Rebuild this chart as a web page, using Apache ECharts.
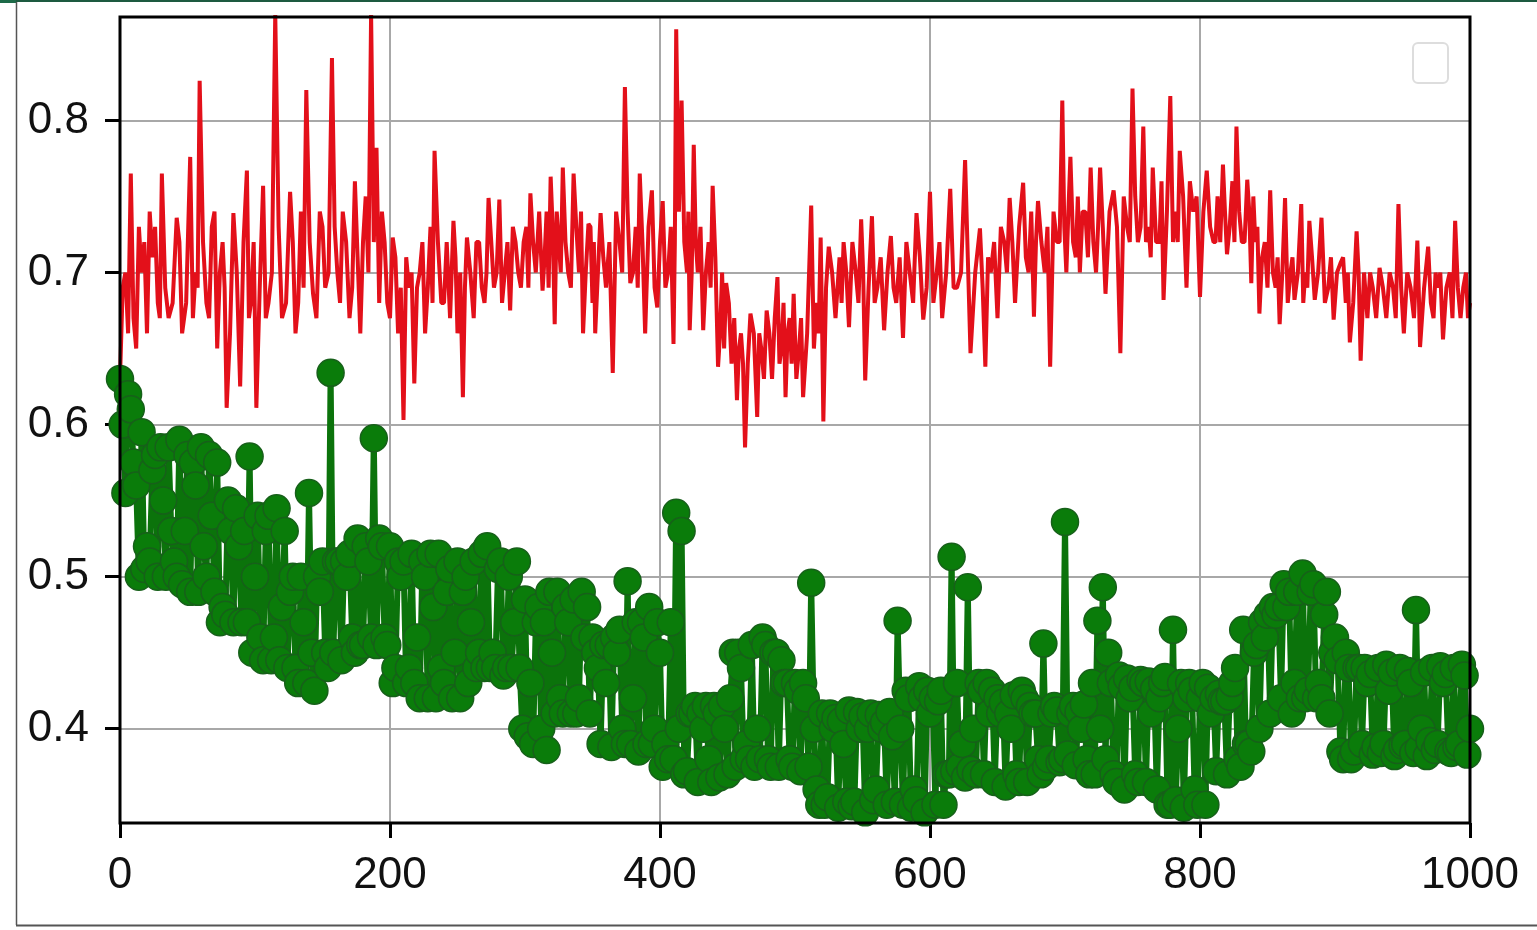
<!DOCTYPE html>
<html>
<head>
<meta charset="utf-8">
<style>
  html, body { margin: 0; padding: 0; background: #ffffff; }
  #view { width: 1537px; height: 930px; }
</style>
<script src="https://cdn.jsdelivr.net/npm/echarts@6/dist/echarts.min.js"></script>
</head>
<body>
<div id="view"></div>
<script>
  // axis ticks
  var xTicks = [0, 200, 400, 600, 800, 1000];
  var yTicks = [0.4, 0.5, 0.6, 0.7, 0.8];

  // red line: x positions and values
  var redX = [
    0, 4, 8, 12, 16, 20, 24, 28, 31, 36, 42, 46, 52, 56, 59, 64, 68, 72, 76, 79,
    84, 89, 94, 97, 101, 106, 110, 115, 120, 126, 130, 134, 138, 143, 148, 152, 157, 161, 165, 170,
    174, 178, 182, 186, 190, 194, 198, 202, 206, 210, 214, 218, 222, 226, 230, 233, 238, 242, 247, 250,
    254, 257, 262, 266, 270, 273, 277, 281, 285, 289, 293, 297, 301, 304, 308, 313, 316, 319, 322, 325,
    328, 332, 336, 340, 343, 347, 350, 352, 356, 360, 365, 370, 374, 378, 382, 385, 389, 394, 398, 402,
    406, 410, 412, 416, 420, 422, 425, 428, 432, 436, 439, 443, 446, 449, 453, 457, 460, 463, 467, 472,
    475, 479, 483, 487, 490, 493, 496, 499, 503, 506, 512, 516, 519, 521, 525, 530, 533, 536, 540, 545,
    549, 552, 557, 561, 566, 571, 575, 580, 585, 590, 595, 600, 605, 609, 615, 620, 626, 630, 637, 641,
    645, 650, 655, 659, 663, 669, 673, 677, 680, 685, 689, 694, 698, 701, 704, 708, 711, 715, 719, 723,
    726, 730, 736, 741, 746, 750, 754, 758, 762, 765, 770, 773, 778, 782, 785, 790, 795, 800, 805, 810,
    813, 817, 820, 824, 827, 831, 835, 838, 841, 844, 848, 852, 856, 859, 863, 867, 870, 875, 878, 881,
    885, 890, 895, 899, 904, 908, 911, 916, 919, 924, 928, 933, 938, 943, 947, 951, 956, 961, 963, 969,
    973, 976, 980, 985, 989, 993, 997, 1000
  ];
  var redY = [
    0.630, 0.700, 0.765, 0.650, 0.700, 0.660, 0.710, 0.680, 0.765, 0.670, 0.736, 0.660, 0.776, 0.700, 0.826, 0.680, 0.730, 0.650, 0.720, 0.611,
    0.739, 0.625, 0.767, 0.680, 0.611, 0.757, 0.680, 0.870, 0.670, 0.753, 0.660, 0.740, 0.820, 0.686, 0.740, 0.690, 0.841, 0.700, 0.740, 0.670,
    0.760, 0.660, 0.750, 0.870, 0.782, 0.740, 0.680, 0.723, 0.660, 0.603, 0.690, 0.627, 0.700, 0.660, 0.730, 0.780, 0.680, 0.720, 0.734, 0.660,
    0.618, 0.723, 0.670, 0.720, 0.680, 0.749, 0.690, 0.748, 0.700, 0.675, 0.720, 0.690, 0.730, 0.752, 0.700, 0.688, 0.740, 0.763, 0.666, 0.720,
    0.769, 0.700, 0.765, 0.700, 0.660, 0.732, 0.680, 0.660, 0.739, 0.690, 0.634, 0.720, 0.822, 0.693, 0.730, 0.765, 0.660, 0.754, 0.677, 0.747,
    0.700, 0.653, 0.860, 0.813, 0.700, 0.662, 0.784, 0.700, 0.662, 0.720, 0.757, 0.638, 0.700, 0.693, 0.640, 0.616, 0.660, 0.585, 0.673, 0.605,
    0.650, 0.675, 0.630, 0.697, 0.650, 0.618, 0.670, 0.686, 0.650, 0.618, 0.744, 0.680, 0.723, 0.602, 0.717, 0.670, 0.710, 0.720, 0.664, 0.700,
    0.735, 0.629, 0.737, 0.690, 0.662, 0.724, 0.680, 0.657, 0.700, 0.739, 0.669, 0.753, 0.700, 0.670, 0.755, 0.690, 0.774, 0.647, 0.729, 0.638,
    0.700, 0.670, 0.720, 0.749, 0.680, 0.759, 0.700, 0.671, 0.747, 0.700, 0.638, 0.720, 0.813, 0.700, 0.776, 0.710, 0.700, 0.740, 0.769, 0.700,
    0.769, 0.686, 0.754, 0.647, 0.730, 0.821, 0.720, 0.796, 0.730, 0.769, 0.720, 0.682, 0.816, 0.740, 0.780, 0.690, 0.740, 0.684, 0.767, 0.720,
    0.750, 0.771, 0.712, 0.760, 0.796, 0.720, 0.761, 0.693, 0.720, 0.673, 0.720, 0.754, 0.690, 0.666, 0.749, 0.700, 0.682, 0.745, 0.700, 0.734,
    0.682, 0.736, 0.690, 0.669, 0.706, 0.680, 0.654, 0.727, 0.642, 0.670, 0.690, 0.703, 0.670, 0.690, 0.745, 0.660, 0.690, 0.721, 0.651, 0.717,
    0.670, 0.690, 0.656, 0.700, 0.734, 0.670, 0.700, 0.680
  ];
  // red values in the dense core, halfway between the points above
  var redYMid = [
    0.690, 0.660, 0.670, 0.730, 0.720, 0.740, 0.730, 0.670, 0.690, 0.680, 0.720, 0.680, 0.670, 0.690, 0.720, 0.670, 0.740, 0.700, 0.690, 0.660,
    0.700, 0.720, 0.670, 0.720, 0.690, 0.670, 0.700, 0.730, 0.680, 0.720, 0.680, 0.690, 0.720, 0.670, 0.730, 0.700, 0.730, 0.680, 0.720, 0.690,
    0.710, 0.720, 0.700, 0.720, 0.680, 0.720, 0.670, 0.710, 0.690, 0.710, 0.700, 0.690, 0.720, 0.690, 0.680, 0.720, 0.680, 0.670, 0.710, 0.700,
    0.690, 0.700, 0.720, 0.690, 0.700, 0.720, 0.700, 0.680, 0.720, 0.730, 0.700, 0.720, 0.690, 0.720, 0.740, 0.710, 0.690, 0.730, 0.740, 0.700,
    0.720, 0.690, 0.730, 0.740, 0.700, 0.730, 0.720, 0.700, 0.710, 0.720, 0.740, 0.700, 0.740, 0.700, 0.690, 0.720, 0.730, 0.690, 0.720, 0.690,
    0.730, 0.720, 0.740, 0.720, 0.740, 0.700, 0.720, 0.730, 0.700, 0.690, 0.710, 0.660, 0.650, 0.680, 0.670, 0.650, 0.640, 0.640, 0.660, 0.660,
    0.630, 0.660, 0.670, 0.640, 0.680, 0.660, 0.640, 0.630, 0.670, 0.660, 0.650, 0.660, 0.670, 0.690, 0.700, 0.690, 0.680, 0.700, 0.720, 0.680,
    0.700, 0.690, 0.680, 0.710, 0.700, 0.690, 0.710, 0.720, 0.680, 0.710, 0.690, 0.680, 0.720, 0.700, 0.690, 0.700, 0.710, 0.700, 0.690, 0.710,
    0.720, 0.730, 0.700, 0.720, 0.730, 0.710, 0.740, 0.720, 0.720, 0.730, 0.740, 0.720, 0.730, 0.740, 0.720, 0.750, 0.740, 0.710, 0.720, 0.730,
    0.730, 0.740, 0.730, 0.750, 0.720, 0.750, 0.730, 0.720, 0.710, 0.720, 0.760, 0.740, 0.720, 0.720, 0.750, 0.760, 0.750, 0.740, 0.730, 0.720,
    0.720, 0.740, 0.730, 0.720, 0.740, 0.720, 0.740, 0.750, 0.730, 0.710, 0.690, 0.700, 0.710, 0.700, 0.680, 0.710, 0.700, 0.680, 0.690, 0.710,
    0.700, 0.680, 0.710, 0.700, 0.710, 0.700, 0.680, 0.700, 0.700, 0.700, 0.670, 0.690, 0.700, 0.670, 0.690, 0.700, 0.670, 0.690, 0.690, 0.680,
    0.700, 0.700, 0.690, 0.670, 0.690, 0.690, 0.670
  ];

  // green markers at x = 0, 4, 8 ... 1000
  var greenY = [
    0.630, 0.555, 0.610, 0.560, 0.595, 0.520, 0.570, 0.500, 0.550, 0.585,  // 0-36
    0.510, 0.590, 0.530, 0.490, 0.560, 0.585, 0.500, 0.540, 0.575, 0.480,  // 40-76
    0.550, 0.470, 0.520, 0.530, 0.579, 0.500, 0.460, 0.530, 0.445, 0.545,  // 80-116
    0.480, 0.440, 0.500, 0.430, 0.470, 0.555, 0.425, 0.490, 0.450, 0.634,  // 120-156
    0.510, 0.445, 0.500, 0.460, 0.525, 0.455, 0.510, 0.591, 0.525, 0.460,  // 160-196
    0.520, 0.440, 0.500, 0.430, 0.515, 0.460, 0.510, 0.420, 0.480, 0.515,  // 200-236
    0.430, 0.505, 0.450, 0.420, 0.500, 0.470, 0.440, 0.515, 0.520, 0.450,  // 240-276
    0.505, 0.435, 0.500, 0.470, 0.440, 0.485, 0.430, 0.470, 0.400, 0.386,  // 280-316
    0.450, 0.490, 0.410, 0.470, 0.485, 0.420, 0.460, 0.410, 0.450, 0.390,  // 320-356
    0.430, 0.388, 0.450, 0.400, 0.497, 0.420, 0.385, 0.460, 0.480, 0.400,  // 360-396
    0.450, 0.390, 0.470, 0.542, 0.530, 0.372, 0.410, 0.365, 0.400, 0.380,  // 400-436
    0.415, 0.368, 0.400, 0.420, 0.375, 0.440, 0.390, 0.455, 0.400, 0.460,  // 440-476
    0.380, 0.450, 0.375, 0.430, 0.380, 0.430, 0.372, 0.420, 0.496, 0.360,  // 480-516
    0.410, 0.355, 0.400, 0.348, 0.390, 0.412, 0.352, 0.400, 0.345, 0.410,  // 520-556
    0.360, 0.400, 0.350, 0.395, 0.471, 0.350, 0.420, 0.360, 0.428, 0.345,  // 560-596
    0.410, 0.350, 0.425, 0.370, 0.513, 0.430, 0.390, 0.493, 0.400, 0.430,  // 600-636
    0.370, 0.410, 0.365, 0.410, 0.362, 0.400, 0.370, 0.425, 0.365, 0.410,  // 640-676
    0.380, 0.456, 0.380, 0.415, 0.378, 0.536, 0.410, 0.376, 0.400, 0.380,  // 680-716
    0.430, 0.471, 0.493, 0.450, 0.370, 0.435, 0.360, 0.420, 0.370, 0.432,  // 720-756
    0.365, 0.410, 0.360, 0.430, 0.350, 0.465, 0.400, 0.348, 0.430, 0.360,  // 760-796
    0.420, 0.350, 0.410, 0.372, 0.418, 0.370, 0.430, 0.380, 0.465, 0.390,  // 800-836
    0.450, 0.400, 0.460, 0.410, 0.475, 0.420, 0.480, 0.410, 0.490, 0.502,  // 840-876
    0.425, 0.495, 0.430, 0.475, 0.410, 0.460, 0.385, 0.450, 0.380, 0.440,  // 880-916
    0.390, 0.430, 0.383, 0.440, 0.390, 0.425, 0.382, 0.440, 0.390, 0.430,  // 920-956
    0.478, 0.400, 0.382, 0.440, 0.390, 0.430, 0.385, 0.440, 0.390, 0.435,  // 960-996
    0.400                                                                  // 1000
  ];
  // green markers in between, at x = 2, 6, 10 ... 998
  var greenYMid = [
    0.600, 0.620, 0.575, 0.500, 0.505, 0.510, 0.580, 0.585, 0.500, 0.530,  // 2-38
    0.500, 0.495, 0.580, 0.575, 0.490, 0.520, 0.580, 0.490, 0.470, 0.475,  // 42-78
    0.530, 0.545, 0.470, 0.470, 0.450, 0.540, 0.445, 0.540, 0.460, 0.445,  // 82-118
    0.530, 0.490, 0.440, 0.500, 0.430, 0.450, 0.500, 0.510, 0.440, 0.450,  // 122-158
    0.510, 0.510, 0.515, 0.450, 0.455, 0.520, 0.460, 0.455, 0.520, 0.455,  // 162-198
    0.430, 0.510, 0.510, 0.440, 0.430, 0.420, 0.500, 0.515, 0.420, 0.440,  // 202-238
    0.490, 0.420, 0.510, 0.490, 0.430, 0.510, 0.450, 0.440, 0.440, 0.440,  // 242-278
    0.510, 0.440, 0.440, 0.510, 0.400, 0.395, 0.390, 0.480, 0.470, 0.490,  // 282-318
    0.410, 0.420, 0.480, 0.410, 0.410, 0.490, 0.480, 0.460, 0.440, 0.455,  // 322-358
    0.455, 0.460, 0.465, 0.390, 0.390, 0.470, 0.470, 0.390, 0.390, 0.470,  // 362-398
    0.375, 0.380, 0.380, 0.400, 0.370, 0.410, 0.415, 0.410, 0.415, 0.365,  // 402-438
    0.410, 0.415, 0.370, 0.450, 0.450, 0.380, 0.380, 0.375, 0.380, 0.455,  // 442-478
    0.375, 0.450, 0.445, 0.430, 0.375, 0.425, 0.430, 0.375, 0.400, 0.350,  // 482-518
    0.350, 0.410, 0.407, 0.405, 0.352, 0.349, 0.411, 0.408, 0.400, 0.353,  // 522-558
    0.409, 0.404, 0.411, 0.352, 0.400, 0.425, 0.348, 0.353, 0.420, 0.425,  // 562-598
    0.420, 0.418, 0.350, 0.370, 0.372, 0.375, 0.368, 0.373, 0.370, 0.425,  // 602-638
    0.430, 0.425, 0.420, 0.417, 0.410, 0.422, 0.365, 0.420, 0.415, 0.410,  // 642-678
    0.370, 0.375, 0.410, 0.412, 0.380, 0.383, 0.415, 0.411, 0.416, 0.370,  // 682-718
    0.370, 0.400, 0.380, 0.430, 0.365, 0.428, 0.433, 0.427, 0.365, 0.430,  // 722-758
    0.431, 0.426, 0.420, 0.434, 0.350, 0.353, 0.430, 0.420, 0.425, 0.350,  // 762-798
    0.430, 0.427, 0.420, 0.423, 0.418, 0.421, 0.440, 0.375, 0.390, 0.385,  // 802-838
    0.455, 0.470, 0.475, 0.480, 0.480, 0.495, 0.490, 0.430, 0.420, 0.420,  // 842-878
    0.490, 0.420, 0.420, 0.490, 0.450, 0.445, 0.380, 0.440, 0.385, 0.440,  // 882-918
    0.440, 0.436, 0.388, 0.384, 0.442, 0.437, 0.386, 0.389, 0.438, 0.384,  // 922-958
    0.387, 0.437, 0.392, 0.386, 0.441, 0.436, 0.384, 0.388, 0.442, 0.383   // 962-998
  ];

  var redData = [];
  redY.forEach(function (v, i) {
    redData.push([redX[i], v]);
    if (i < redYMid.length) {
      redData.push([(redX[i] + redX[i + 1]) / 2, redYMid[i]]);
    }
  });
  var greenData = [];
  greenY.forEach(function (v, i) {
    greenData.push([i * 4, v]);
    if (i < greenYMid.length) {
      greenData.push([i * 4 + 2, greenYMid[i]]);
    }
  });

  var labelFont = {
    fontFamily: '"Liberation Sans", Arial, sans-serif',
    fontSize: 44,
    color: '#111111'
  };

  var chart = echarts.init(document.getElementById('view'));

  var option = {
    backgroundColor: '#ffffff',
    animation: false,
    grid: {
      left: 120,
      right: 67,
      top: 17,
      bottom: 107,
      show: false
    },
    xAxis: {
      type: 'value',
      min: 0,
      max: 1000,
      interval: 200,
      axisLine: { show: false },
      axisTick: { show: true, length: 15, lineStyle: { color: '#000', width: 3 } },
      axisLabel: Object.assign({ margin: 31, formatter: function (v) { return String(v); } }, labelFont),
      splitLine: { show: true, lineStyle: { color: '#a8a8a8', width: 2 } }
    },
    yAxis: {
      type: 'value',
      min: 0.338,
      max: 0.868,
      axisLine: { show: false },
      axisTick: { show: true, length: 15, customValues: yTicks, lineStyle: { color: '#000', width: 3 } },
      axisLabel: Object.assign({ margin: 31, customValues: yTicks, formatter: function (v) { return v.toFixed(1); } }, labelFont),
      splitLine: { show: true, lineStyle: { color: '#a8a8a8', width: 2 } }
    },
    series: [
      {
        name: 'red',
        type: 'line',
        data: redData,
        showSymbol: false,
        symbol: 'none',
        clip: true,
        z: 3,
        lineStyle: { color: '#e3101a', width: 4 }
      },
      {
        name: 'green',
        type: 'line',
        data: greenData,
        symbol: 'circle',
        symbolSize: 27,
        showSymbol: true,
        showAllSymbol: true,
        clip: true,
        z: 4,
        lineStyle: { color: '#0b730b', width: 6 },
        itemStyle: { color: '#0a7c0a', borderColor: '#17601a', borderWidth: 1.5 }
      }
    ],
    graphic: [
      // plot frame
      { type: 'rect', shape: { x: 120, y: 17, width: 1350, height: 806 },
        style: { fill: 'transparent', stroke: '#000000', lineWidth: 3 }, z: 20 },
      // empty legend frame
      { type: 'rect', shape: { x: 1413, y: 43, width: 35, height: 40, r: 5 },
        style: { fill: '#ffffff', stroke: '#dddddd', lineWidth: 2 }, z: 10 },
      // picture frame
      { type: 'rect', shape: { x: 0, y: 0, width: 1537, height: 2 }, style: { fill: '#1d5a40' }, z: 10 },
      { type: 'rect', shape: { x: 0, y: 0, width: 16, height: 3 }, style: { fill: '#1d6a48' }, z: 10 },
      { type: 'line', shape: { x1: 16.5, y1: 2, x2: 16.5, y2: 925 }, style: { stroke: '#555555', lineWidth: 1.5 }, z: 10 },
      { type: 'line', shape: { x1: 16, y1: 925.5, x2: 1537, y2: 925.5 }, style: { stroke: '#555555', lineWidth: 2 }, z: 10 }
    ]
  };

  chart.setOption(option);
</script>
</body>
</html>
